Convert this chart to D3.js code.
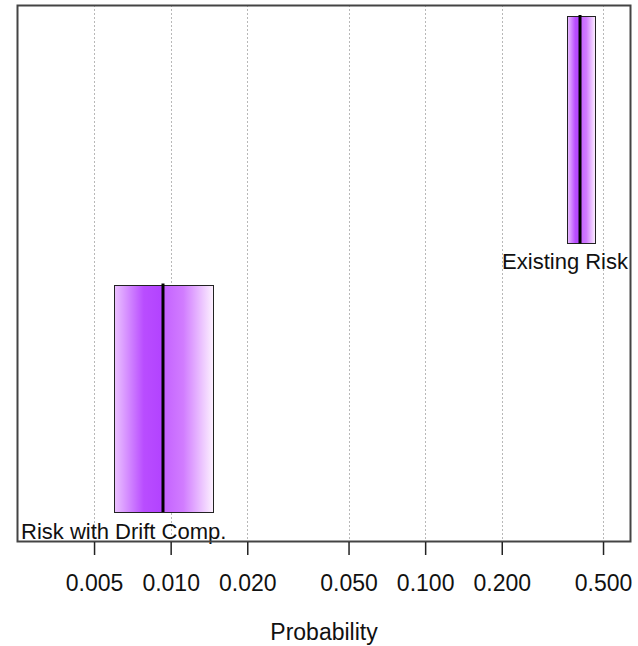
<!DOCTYPE html>
<html>
<head>
<meta charset="utf-8">
<script src="https://cdn.jsdelivr.net/npm/d3@7"></script>
<style>
  body { margin: 0; background: #fff; }
  text { font-family: "Liberation Sans", Arial, sans-serif; fill: #111; }
</style>
</head>
<body>
<div id="container"></div>
<script>
// interval estimates for each risk
var names = ['Existing Risk', 'Risk with Drift Comp.']
var lower = [0.361, 0.0060]
var median = [0.406, 0.00933]
var upper = [0.466, 0.0147]

var tickValues = [0.005, 0.01, 0.02, 0.05, 0.1, 0.2, 0.5]
var axisTitle = 'Probability'

var width = 638
var height = 646
var margin = { top: 5, right: 7, bottom: 104, left: 17 }
var fontSize = '23px'

var svg = d3.select('#container').append('svg')
  .attr('width', width)
  .attr('height', height)

var x = d3.scaleLog()
  .domain([0.00249, 0.644])
  .range([margin.left, width - margin.right])

var y = d3.scaleBand()
  .domain(names)
  .range([margin.top, height - margin.bottom])

// grid lines
svg.append('g')
  .selectAll('line')
  .data(tickValues)
  .enter().append('line')
  .attr('x1', function (d) { return Math.round(x(d)) + 0.5 })
  .attr('x2', function (d) { return Math.round(x(d)) + 0.5 })
  .attr('y1', margin.top)
  .attr('y2', height - margin.bottom)
  .style('stroke', '#b8b8b8')
  .style('stroke-dasharray', '2,2')

// gradients for each box
var defs = svg.append('defs')
names.forEach(function (n, i) {
  var m = (x(median[i]) - x(lower[i])) / (x(upper[i]) - x(lower[i]))
  var stops = [
    [0, '#ebc2ff'],
    [m * 0.6, '#b94dff'],
    [m, '#b242ff'],
    [m, '#c462ff'],
    [m + (1 - m) * 0.4, '#d17cff'],
    [1, '#fdf2ff']
  ]
  var g = defs.append('linearGradient')
    .attr('id', 'grad' + i)
    .attr('x1', 0).attr('x2', 1).attr('y1', 0).attr('y2', 0)
  stops.forEach(function (s) {
    g.append('stop').attr('offset', s[0]).attr('stop-color', s[1])
  })
})

var boxes = svg.append('g')
  .selectAll('g')
  .data(names)
  .enter().append('g')

boxes.append('rect')
  .attr('x', function (d, i) { return Math.round(x(lower[i])) + 0.5 })
  .attr('width', function (d, i) { return Math.round(x(upper[i])) - Math.round(x(lower[i])) })
  .attr('y', function (d) { return Math.round(y(d) + 11) + 0.5 })
  .attr('height', function (d) { return Math.round(y.bandwidth() - 42) })
  .style('fill', function (d, i) { return 'url(#grad' + i + ')' })
  .style('stroke', '#222')
  .style('stroke-width', 1)

boxes.append('line')
  .attr('x1', function (d, i) { return x(median[i]) })
  .attr('x2', function (d, i) { return x(median[i]) })
  .attr('y1', function (d) { return y(d) + 10 })
  .attr('y2', function (d) { return y(d) + y.bandwidth() - 30 })
  .style('stroke', '#000')
  .style('stroke-width', 3)

boxes.append('text')
  .attr('x', function (d, i) { return i === 0 ? width - margin.right - 3 : margin.left + 4 })
  .attr('y', function (d, i) { return y(d) + y.bandwidth() - (i === 0 ? 5 : 3) })
  .attr('text-anchor', function (d, i) { return i === 0 ? 'end' : 'start' })
  .style('font-size', '22px')
  .text(function (d) { return d })

// frame
svg.append('rect')
  .attr('x', margin.left + 0.5)
  .attr('y', margin.top + 0.5)
  .attr('width', width - margin.left - margin.right - 1)
  .attr('height', height - margin.top - margin.bottom - 1)
  .style('fill', 'none')
  .style('stroke', '#444')
  .style('stroke-width', 2)

// axis
var axis = d3.axisBottom(x)
  .tickValues(tickValues)
  .tickFormat(d3.format('.3f'))
  .tickSize(13)
  .tickPadding(20)

var ax = svg.append('g')
  .attr('transform', 'translate(0,' + (height - margin.bottom) + ')')
  .call(axis)
ax.select('.domain').remove()
ax.selectAll('.tick line').style('stroke', '#222').style('stroke-width', 1.5)
ax.selectAll('.tick text')
  .style('font-family', '"Liberation Sans", Arial, sans-serif')
  .style('font-size', fontSize)
  .style('fill', '#111')

svg.append('text')
  .attr('x', (margin.left + width - margin.right) / 2)
  .attr('y', 640)
  .attr('text-anchor', 'middle')
  .style('font-size', fontSize)
  .text(axisTitle)
</script>
</body>
</html>
